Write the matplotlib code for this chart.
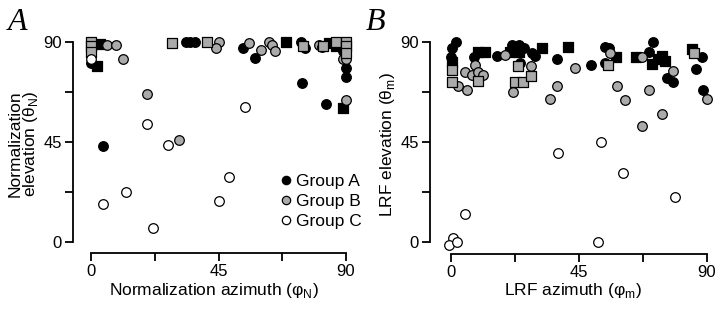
import matplotlib
matplotlib.use("Agg")
import matplotlib.pyplot as plt
from matplotlib.lines import Line2D

plt.rcParams["font.family"] = ["Liberation Sans", "DejaVu Sans"]
plt.rcParams["font.size"] = 11.5

GRAY = "#aaaaaa"

# ---- panel A: normalization (azimuth, elevation) ----
A_a_circ = [(0, 80.5), (4.3, 43), (33.4, 90), (35, 90), (36.7, 90), (53.8, 87), (58, 82.6),
            (74, 90), (75.5, 87), (74.4, 71.4), (83, 62), (90, 78), (90, 74), (89, 86)]
A_a_sq = [(3, 89), (2, 79), (69, 90), (84, 89.5), (86.6, 88), (89, 60)]
A_b_circ = [(5.6, 88.6), (8.8, 88.6), (11.3, 82), (19.8, 66.5), (31, 46), (45, 90), (44, 87),
            (55.6, 89.4), (60, 86.4), (63, 90), (64, 88.7), (65, 85.7), (80.5, 88.6),
            (81.6, 87.5), (89, 82), (90, 82), (90, 64)]
A_b_sq = [(0, 90), (0, 88), (0, 85.5), (28.5, 89.5), (40.8, 90), (75, 88), (86.6, 90),
          (90, 90), (90, 88), (90, 85), (82, 88)]
A_c_circ = [(0, 82), (4.3, 17), (12.4, 22.5), (22, 6.3), (19.7, 53), (27, 43.5), (45, 18.5),
            (48.8, 29), (54.4, 60.7)]

# ---- panel B: LRF (azimuth, elevation) ----
B_a_circ = [(1.8, 90), (0.3, 87), (16, 83.4), (21.4, 88.6), (24, 88.6), (25.7, 87), (28.6, 85),
            (29.5, 83.7), (24.3, 80.4), (37.3, 82.2), (49.2, 79.3), (54, 87.8), (55.6, 87.3),
            (54, 80.5), (69.7, 85.4), (71, 90), (75.9, 73.8), (78, 72), (88.3, 83.2),
            (86.1, 77.9), (88.6, 68.4), (0, 83), (8, 83)]
B_a_sq = [(0.5, 81), (9.5, 85.5), (12, 85.5), (20.7, 85.5), (24, 85.5), (32, 87), (41, 87.8),
          (58, 83), (65, 83.2), (70.7, 80), (72.8, 82.4), (74.2, 83.7), (75.2, 81.5), (84.7, 86.8)]
B_b_circ = [(2.5, 70), (5.6, 68.4), (5, 76.5), (8.4, 79.6), (7.4, 75), (9.5, 76.5), (11.2, 75),
            (19, 84), (28, 79), (21.8, 67.6), (43.6, 78.3), (37.3, 70.2), (34.8, 64.3), (56, 85),
            (58.4, 70.3), (61, 63.6), (67, 83), (69.7, 68.4), (74.2, 57.6), (67.2, 52.2),
            (78, 77), (90, 64.4)]
B_b_sq = [(0.5, 77.4), (0.5, 72), (9.5, 72.5), (23.5, 79), (22.5, 72.1), (25.3, 72.1),
          (28, 74.4), (55.2, 79.6), (85.5, 85)]
B_c_circ = [(37.6, 40), (52.7, 45), (60.5, 31), (78.8, 20.3), (4.9, 12.6), (0.7, 1.8),
            (-0.7, -1.3), (2, 0), (51.7, 0)]

groups = ["Group A", "Group B", "Group C"]
ticks = [0, 45, 90]
minor_ticks = [22.5, 67.5]


def scatter(ax, pts, face, marker):
    xs, ys = zip(*pts)
    ax.scatter(xs, ys, s=48, marker=marker, facecolor=face, edgecolor="black",
               linewidth=0.9, zorder=3, clip_on=False)


def style(ax, xlim, ylim):
    ax.set_xlim(*xlim); ax.set_ylim(*ylim)
    for s in ("top", "right"):
        ax.spines[s].set_visible(False)
    for s in ("left", "bottom"):
        ax.spines[s].set_linewidth(1.3)
        ax.spines[s].set_bounds(0, 90)
    ax.set_xticks(ticks); ax.set_yticks(ticks)
    ax.set_xticks(minor_ticks, minor=True); ax.set_yticks(minor_ticks, minor=True)
    ax.tick_params(which="both", length=6, width=1.3, direction="out")
    ax.tick_params(which="major", labelsize=12, pad=2)


fig = plt.figure(figsize=(7.2, 3.1), dpi=100)
axA = fig.add_axes([73 / 720, 57 / 310, 282 / 720, 218 / 310])
axB = fig.add_axes([430 / 720, 56 / 310, 285 / 720, 219 / 310])

for ax, sets in ((axA, (A_a_circ, A_a_sq, A_b_circ, A_b_sq, A_c_circ)),
                 (axB, (B_a_circ, B_a_sq, B_b_circ, B_b_sq, B_c_circ))):
    a_c, a_s, b_c, b_s, c_c = sets
    scatter(ax, a_c, "black", "o")
    scatter(ax, a_s, "black", "s")
    scatter(ax, b_c, GRAY, "o")
    scatter(ax, b_s, GRAY, "s")
    scatter(ax, c_c, "white", "o")

style(axA, (-6.4, 93.2), (-5, 93))
style(axB, (-7.4, 92.8), (-5.4, 93))

axA.set_xlabel("Normalization azimuth (φ$_\\mathregular{N}$)", fontsize=12.5, labelpad=1)
axA.set_ylabel("Normalization\nelevation (θ$_\\mathregular{N}$)", fontsize=12.5, labelpad=2,
               linespacing=0.95)
axB.set_xlabel("LRF azimuth (φ$_\\mathregular{m}$)", fontsize=12.5, labelpad=1)
axB.set_ylabel("LRF elevation (θ$_\\mathregular{m}$)", fontsize=12.5, labelpad=2)

handles = [Line2D([], [], ls="none", marker="o", markersize=6, markerfacecolor=f,
                  markeredgecolor="black", markeredgewidth=0.9)
           for f in ("black", GRAY, "white")]
axA.legend(handles, groups, loc="upper left", bbox_to_anchor=(0.725, 0.365), frameon=False,
           handletextpad=0.05, handlelength=1.0, labelspacing=0.3, borderpad=0,
           borderaxespad=0, fontsize=12.5)

fig.text(8 / 720, 1 - 30 / 310, "A", fontsize=23, style="italic",
         family=["Liberation Serif", "DejaVu Serif"])
fig.text(366 / 720, 1 - 30 / 310, "B", fontsize=23, style="italic",
         family=["Liberation Serif", "DejaVu Serif"])

fig.savefig("out.png", dpi=100)
